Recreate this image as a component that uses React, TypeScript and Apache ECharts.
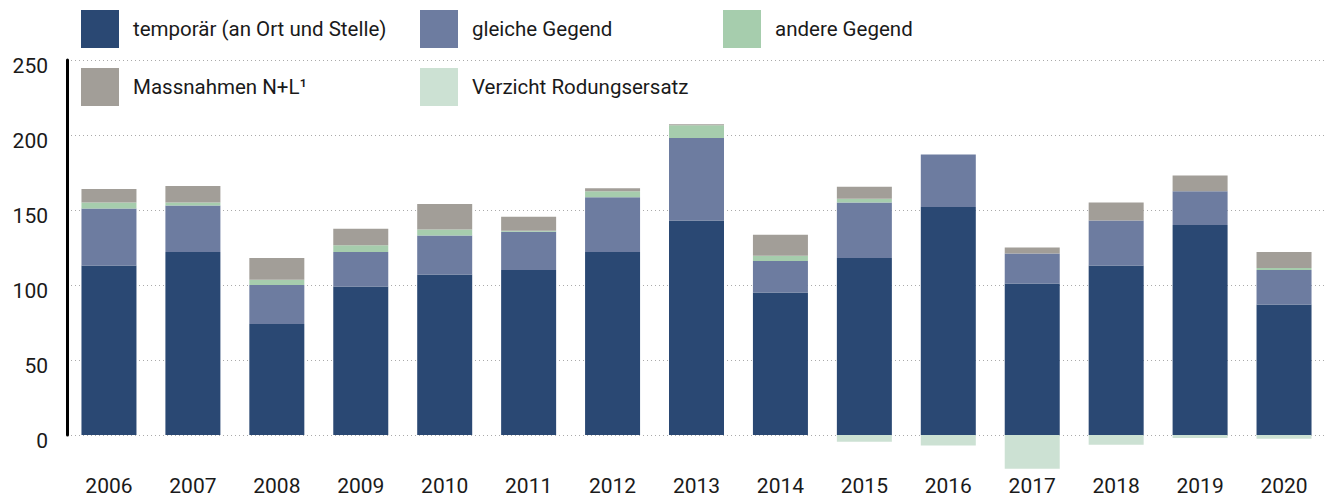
import React, { useEffect, useRef } from "react";
import * as echarts from "echarts";

const years = ["2006", "2007", "2008", "2009", "2010", "2011", "2012", "2013", "2014", "2015", "2016", "2017", "2018", "2019", "2020"];
const temporaer = [113, 122, 74, 99, 107, 110, 122, 143, 95, 118, 152, 101, 113, 140, 87];
const gleicheGegend = [38, 31, 26, 23, 26, 25.5, 36.5, 55, 21, 37, 35, 20, 30, 22.5, 23];
const andereGegend = [4, 2, 3.5, 4.5, 4, 0.7, 4, 8.5, 3.5, 2.5, 0, 0, 0, 0, 1.3];
const massnahmen = [9, 11, 14.5, 11, 17, 9.3, 2, 0.7, 14, 8, 0, 4, 12, 10.5, 10.7];
const verzicht = [0, 0, 0, 0, 0, 0, 0, 0, 0, -4.5, -7, -22.5, -6.5, -2, -2.5];
const yTicks = [0, 50, 100, 150, 200, 250];

const names = {
  t: "temporär (an Ort und Stelle)",
  g: "gleiche Gegend",
  a: "andere Gegend",
  m: "Massnahmen N+L¹",
  v: "Verzicht Rodungsersatz",
};
const colors = {
  t: "#2a4873",
  g: "#6d7ca0",
  a: "#a6cdad",
  m: "#a29e98",
  v: "#cce1d3",
};

const FONT = "Roboto";

export default function App() {
  const ref = useRef<HTMLDivElement>(null);
  useEffect(() => {
    document.body.style.margin = "0";
    const chart = echarts.init(ref.current!, undefined, { renderer: "svg" });
    const bar = (key: keyof typeof names, data: number[]) => ({
      name: names[key],
      type: "bar",
      stack: "total",
      data,
      barWidth: 55,
      clip: false,
      itemStyle: { color: colors[key] },
      emphasis: { disabled: true },
    });
    const legendBase = {
      orient: "vertical",
      top: 10,
      itemWidth: 38,
      itemHeight: 38,
      itemGap: 20,
      padding: 0,
      icon: "rect",
      selectedMode: false,
      textStyle: { fontFamily: FONT, fontSize: 20.5, color: "#1a1a1a", padding: [0, 0, 0, 9] },
    };
    chart.setOption({
      animation: false,
      textStyle: { fontFamily: FONT },
      legend: [
        { ...legendBase, left: 81, data: [names.t, names.m] },
        { ...legendBase, left: 420, data: [names.g, names.v] },
        { ...legendBase, left: 723, data: [names.a] },
      ],
      grid: { left: 67, top: 60, width: 1260, bottom: 62, containLabel: false },
      xAxis: {
        type: "category",
        data: years,
        axisLine: { show: false },
        axisTick: { show: false },
        axisLabel: { fontSize: 21, color: "#1a1a1a", margin: 40, fontFamily: FONT },
      },
      yAxis: {
        type: "value",
        min: yTicks[0],
        max: yTicks[yTicks.length - 1],
        interval: 50,
        axisLine: { show: true, lineStyle: { color: "#000", width: 3 } },
        axisTick: { show: false },
        axisLabel: {
          fontSize: 21,
          color: "#1a1a1a",
          margin: 19,
          verticalAlign: "top",
          lineHeight: 12,
          fontFamily: FONT,
        },
        splitLine: { show: true, lineStyle: { color: "#aaaaaa", type: [1, 3], width: 1 } },
      },
      series: [
        bar("t", temporaer),
        bar("g", gleicheGegend),
        bar("a", andereGegend),
        bar("m", massnahmen),
        bar("v", verzicht),
      ],
    });
    return () => chart.dispose();
  }, []);
  return <div ref={ref} style={{ width: 1326, height: 497 }} />;
}
